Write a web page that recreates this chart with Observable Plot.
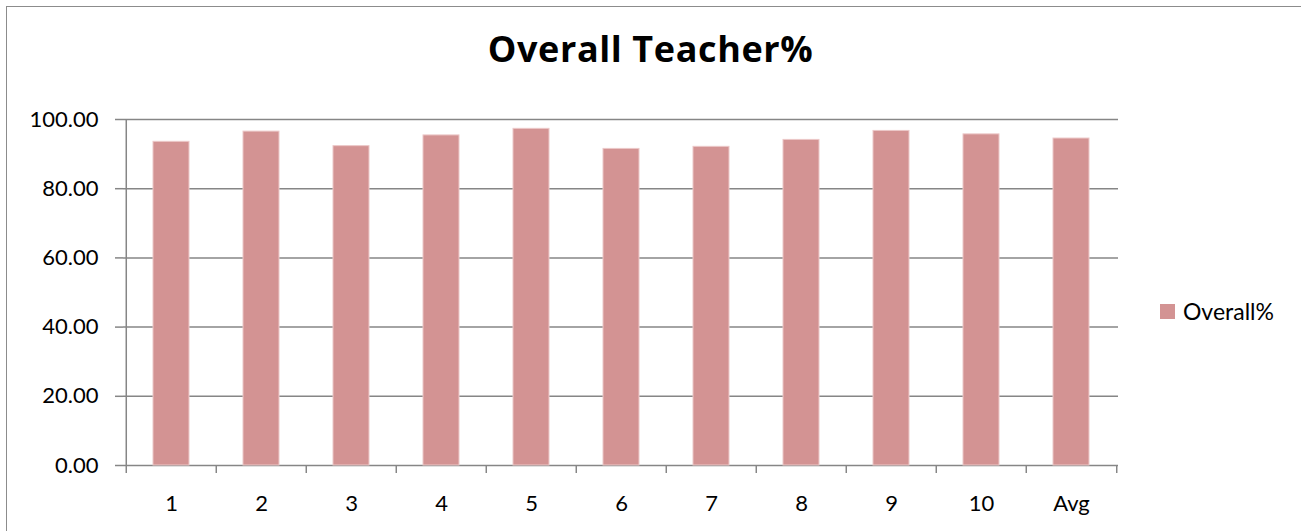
<!DOCTYPE html>
<html><head><meta charset="utf-8">
<script src="https://cdn.jsdelivr.net/npm/d3@7"></script>
<script src="https://cdn.jsdelivr.net/npm/@observablehq/plot@0.6"></script>
<style>
body{margin:0;background:#fff;overflow:hidden;font-family:Lato,"Open Sans",sans-serif;}
#wrap{position:relative;width:1301px;height:531px;overflow:hidden;background:#fff;}
#frame{position:absolute;left:6px;top:6px;width:1400px;height:700px;border-left:1.5px solid #8c8c8c;border-top:1.5px solid #8c8c8c;box-sizing:border-box;}
#title{position:absolute;left:0;width:1301px;top:29px;text-align:center;font-family:"Open Sans",Lato,sans-serif;font-weight:bold;font-size:36px;line-height:40px;color:#000;letter-spacing:0.6px;}
#legend{position:absolute;left:1160px;top:298px;font-size:23px;line-height:26px;display:flex;align-items:center;color:#000;}
.sw{width:15px;height:15px;background:#d39393;margin-right:8px;}
#chart{position:absolute;left:0;top:0;}
</style></head>
<body>
<div id="wrap">
  <div id="frame"></div>
  <div id="chart"></div>
  <div id="title"></div>
  <div id="legend"><div class="sw"></div><span id="legtext"></span></div>
</div>
<script>
const titleText = "Overall Teacher%";
const seriesName = "Overall%";
const categories = ["1","2","3","4","5","6","7","8","9","10","Avg"];
const values = [93.55, 96.5, 92.3, 95.4, 97.3, 91.5, 92.1, 94.1, 96.7, 95.7, 94.5];
const yTicks = [0, 20, 40, 60, 80, 100];

document.getElementById("title").textContent = titleText;
document.getElementById("legtext").textContent = seriesName;

const data = categories.map((c, i) => ({category: c, value: values[i]}));
const W = 1301, H = 531, ml = 123, mr = 183, mt = 119, mb = 66;
const step = (W - ml - mr) / categories.length;
const axisColor = "#868686";

const chart = Plot.plot({
  width: W, height: H,
  marginLeft: ml, marginRight: mr, marginTop: mt, marginBottom: mb,
  style: {fontFamily: "Lato, 'Open Sans', sans-serif", fontSize: "22px", color: "#000", background: "transparent", overflow: "visible"},
  x: {domain: categories, paddingInner: 0.6, paddingOuter: 0.3, label: null},
  y: {domain: [0, 100], ticks: yTicks, label: null},
  marks: [
    Plot.gridY(yTicks, {stroke: axisColor, strokeOpacity: 1, strokeWidth: 1.5}),
    Plot.barY(data, {x: "category", y: "value", fill: "#d39393", stroke: "#ecc8c8", strokeWidth: 1}),
    Plot.ruleX([categories[0]], {dx: -step / 2, y1: 0, y2: 100, stroke: axisColor, strokeWidth: 1.5}),
    Plot.axisY(yTicks, {tickSize: 8, tickPadding: 17, tickFormat: d3.format(".2f"), stroke: axisColor, strokeWidth: 1.5, fill: "#000", fontSize: 22, label: null}),
    Plot.axisX({tickSize: 0, tickPadding: 30, fill: "#000", fontSize: 22, label: null}),
    Plot.axisX(categories, {tickSize: 8, text: null, dx: -step / 2, stroke: axisColor, strokeWidth: 1.5, label: null}),
    Plot.axisX([categories[categories.length - 1]], {tickSize: 8, text: null, dx: step / 2, stroke: axisColor, strokeWidth: 1.5, label: null})
  ]
});
document.getElementById("chart").appendChild(chart);
</script>
</body></html>
